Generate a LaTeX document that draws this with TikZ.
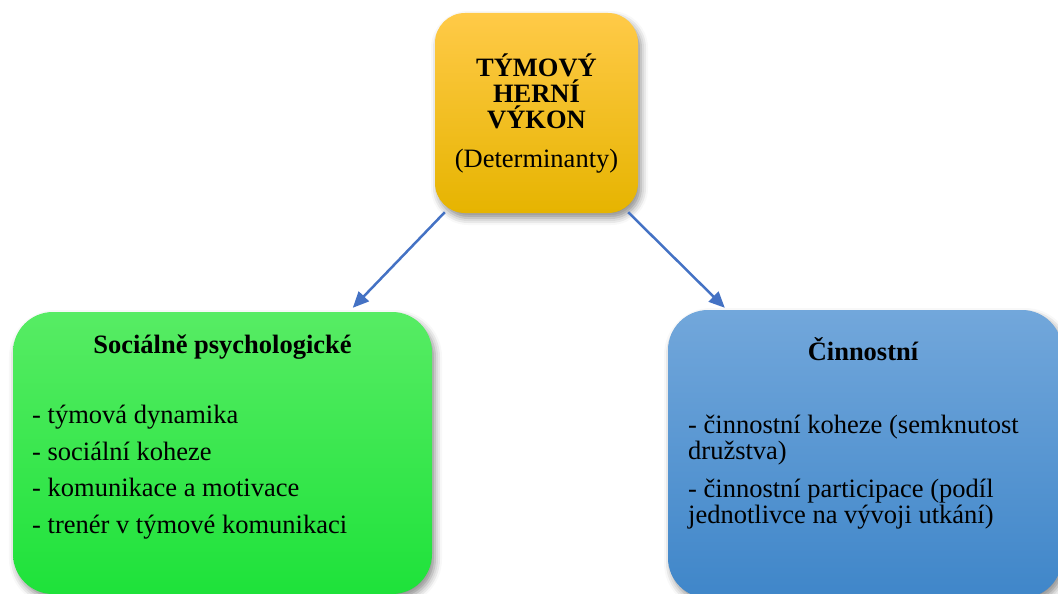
\documentclass[tikz,border=0pt]{standalone}
\usepackage{fontspec}
\setmainfont{Liberation Serif}
\usetikzlibrary{arrows.meta,shadows.blur}

\definecolor{GoldTop}{HTML}{FFCA48}
\definecolor{GoldMid}{HTML}{FFC000}
\definecolor{GoldBot}{HTML}{E6B400}
\definecolor{GreenTop}{HTML}{57EC64}
\definecolor{GreenMid}{HTML}{30E84A}
\definecolor{GreenBot}{HTML}{1EE23A}
\definecolor{BlueTop}{HTML}{72A7DB}
\definecolor{BlueMid}{HTML}{5B9BD5}
\definecolor{BlueBot}{HTML}{3F86C9}
\definecolor{ArrowBlue}{HTML}{4472C4}

\begin{document}
\begin{tikzpicture}
[
x=1pt, y=-1pt,
Box/.style={rectangle, rounded corners=40pt, draw=none,
  blur shadow={shadow xshift=3pt, shadow yshift=-5pt, shadow blur radius=7pt, shadow opacity=45}},
Gold/.style={Box, rounded corners=30pt, top color=GoldTop, middle color=GoldMid, bottom color=GoldBot},
Green/.style={Box, top color=GreenTop, middle color=GreenMid, bottom color=GreenBot},
Blue/.style={Box, top color=BlueTop, middle color=BlueMid, bottom color=BlueBot},
Title/.style={font=\fontsize{26.5}{26}\selectfont\bfseries, anchor=base, inner sep=0pt},
List/.style={font=\fontsize{26.5}{26}\selectfont, anchor=base west, align=left, inner sep=0pt},
Link/.style={-{Triangle[length=16pt,width=14pt]}, draw=ArrowBlue, line width=2.5pt},
]

\useasboundingbox (0,0) rectangle (1058,594);

\node[Gold, minimum width=203pt, minimum height=200pt] (vykon) at (536.5,113) {};
\node[Green, minimum width=419pt, minimum height=282pt] (social) at (222.5,453) {};
\node[Blue, minimum width=394pt, minimum height=288pt] (cinnost) at (865,454) {};

% base of a multi-line node = its last line
\node[Title, align=center] (vykontext) at (536.5,167)
  {TÝMOVÝ\\HERNÍ\\VÝKON\\[13pt]\mdseries (Determinanty)};

\node[Title] (socialtitle) at (222.5,353) {Sociálně psychologické};
\node[List, font=\fontsize{26.5}{36.5}\selectfont] (sociallist) at (32,533)
  {- týmová dynamika\\
   - sociální koheze\\
   - komunikace a motivace\\
   - trenér v týmové komunikaci};

\node[Title] (cinnosttitle) at (863,360) {Činnostní};
\node[List] (cinnostlist) at (688,523)
  {- činnostní koheze (semknutost\\
   družstva)\\[12pt]
   - činnostní participace (podíl\\
   jednotlivce na vývoji utkání)};

\draw[Link] ([xshift=10pt,yshift=1pt]vykon.south west) -- ([xshift=340pt,yshift=4pt]social.north west);
\draw[Link] ([xshift=-10pt,yshift=1pt]vykon.south east) -- ([xshift=57pt,yshift=2pt]cinnost.north west);

\end{tikzpicture}
\end{document}
